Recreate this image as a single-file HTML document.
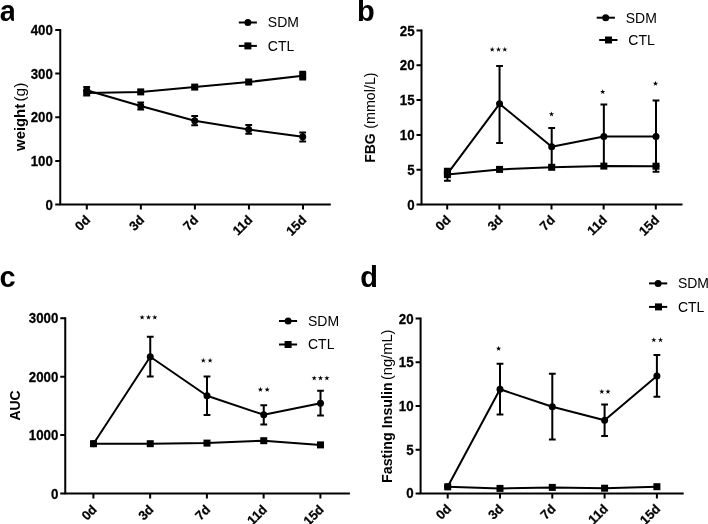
<!DOCTYPE html>
<html><head><meta charset="utf-8"><style>
html,body{margin:0;padding:0;background:#fff;width:708px;height:524px;overflow:hidden}
svg{display:block;will-change:transform}
text{font-family:"Liberation Sans", sans-serif;fill:#000}
.b{font-weight:bold}
.t{font-size:13.3px;stroke:#000;stroke-width:0.25px}
.x{font-size:13px;stroke:#000;stroke-width:0.25px}
.y{font-size:14px}
.p{font-size:29px}
.l{font-size:14px}
</style></head><body>
<svg width="708" height="524" viewBox="0 0 708 524">
<rect width="708" height="524" fill="#fff"/>
<path d="M60.25 30V204.5H329.8" fill="none" stroke="#000" stroke-width="2.0" stroke-linecap="square"/>
<path d="M55.25 204.5H60.25M55.25 160.88H60.25M55.25 117.25H60.25M55.25 73.62H60.25M55.25 30H60.25M86.8 204.5V209.5M140.85 204.5V209.5M194.9 204.5V209.5M248.95 204.5V209.5M303 204.5V209.5" fill="none" stroke="#000" stroke-width="2.0"/>
<text transform="translate(52.9 209.5) scale(1 1.06)" text-anchor="end" class="b t">0</text>
<text transform="translate(52.9 165.88) scale(1 1.06)" text-anchor="end" class="b t">100</text>
<text transform="translate(52.9 122.25) scale(1 1.06)" text-anchor="end" class="b t">200</text>
<text transform="translate(52.9 78.62) scale(1 1.06)" text-anchor="end" class="b t">300</text>
<text transform="translate(52.9 35) scale(1 1.06)" text-anchor="end" class="b t">400</text>
<text transform="translate(91.1 220.7) rotate(-45)" text-anchor="end" class="b x">0d</text>
<text transform="translate(145.15 220.7) rotate(-45)" text-anchor="end" class="b x">3d</text>
<text transform="translate(199.2 220.7) rotate(-45)" text-anchor="end" class="b x">7d</text>
<text transform="translate(253.25 220.7) rotate(-45)" text-anchor="end" class="b x">11d</text>
<text transform="translate(307.3 220.7) rotate(-45)" text-anchor="end" class="b x">15d</text>
<text transform="translate(24.8 150.9) rotate(-90) scale(1.06 1.05)" class="b y">weight</text>
<text transform="translate(24.8 82.7) rotate(-90) scale(1.1 1.05)" text-anchor="end" class="y">(g)</text>
<text x="-0.2" y="21" class="b p">a</text>
<rect x="13.9" y="12" width="4" height="10" fill="#fff"/>
<path d="M302.7 71.7V79.6M299.3 71.7H306.1M299.3 79.6H306.1" fill="none" stroke="#000" stroke-width="2.0"/>
<polyline points="86.7,93 140.7,91.9 194.7,87.1 248.7,82 302.7,75.65" fill="none" stroke="#000" stroke-width="2.0" stroke-linejoin="round"/>
<rect x="83.2" y="89.5" width="7.0" height="7.0"/>
<rect x="137.2" y="88.4" width="7.0" height="7.0"/>
<rect x="191.2" y="83.6" width="7.0" height="7.0"/>
<rect x="245.2" y="78.5" width="7.0" height="7.0"/>
<rect x="299.2" y="72.15" width="7.0" height="7.0"/>
<path d="M86.7 87V90.2M83.3 87H90.1M140.7 102.6V109.5M137.3 102.6H144.1M137.3 109.5H144.1M194.7 115.9V125.3M191.3 115.9H198.1M191.3 125.3H198.1M248.7 125V133.8M245.3 125H252.1M245.3 133.8H252.1M302.7 132.4V141.4M299.3 132.4H306.1M299.3 141.4H306.1" fill="none" stroke="#000" stroke-width="2.0"/>
<polyline points="86.7,90.2 140.7,106 194.7,120.8 248.7,129.5 302.7,136.7" fill="none" stroke="#000" stroke-width="2.0" stroke-linejoin="round"/>
<circle cx="86.7" cy="90.2" r="3.5"/>
<circle cx="140.7" cy="106" r="3.5"/>
<circle cx="194.7" cy="120.8" r="3.5"/>
<circle cx="248.7" cy="129.5" r="3.5"/>
<circle cx="302.7" cy="136.7" r="3.5"/>
<path d="M238.8 22.5H256.9" stroke="#000" stroke-width="2.0"/>
<circle cx="247.9" cy="22.5" r="3.5"/>
<text transform="translate(267.8 27.3) scale(1 1.1)" class="l">SDM</text>
<path d="M238.8 45.9H256.9" stroke="#000" stroke-width="2.0"/>
<rect x="244.4" y="42.4" width="7.0" height="7.0"/>
<text transform="translate(267.8 50.7) scale(1 1.1)" class="l">CTL</text>
<path d="M421.5 30.5V204.5H681.5" fill="none" stroke="#000" stroke-width="2.0" stroke-linecap="square"/>
<path d="M416.5 204.5H421.5M416.5 169.7H421.5M416.5 134.9H421.5M416.5 100.1H421.5M416.5 65.3H421.5M416.5 30.5H421.5M447.2 204.5V209.5M499.35 204.5V209.5M551.5 204.5V209.5M603.65 204.5V209.5M655.8 204.5V209.5" fill="none" stroke="#000" stroke-width="2.0"/>
<text transform="translate(414.6 209.5) scale(1 1.06)" text-anchor="end" class="b t">0</text>
<text transform="translate(414.6 174.7) scale(1 1.06)" text-anchor="end" class="b t">5</text>
<text transform="translate(414.6 139.9) scale(1 1.06)" text-anchor="end" class="b t">10</text>
<text transform="translate(414.6 105.1) scale(1 1.06)" text-anchor="end" class="b t">15</text>
<text transform="translate(414.6 70.3) scale(1 1.06)" text-anchor="end" class="b t">20</text>
<text transform="translate(414.6 35.5) scale(1 1.06)" text-anchor="end" class="b t">25</text>
<text transform="translate(451.5 220.7) rotate(-45)" text-anchor="end" class="b x">0d</text>
<text transform="translate(503.65 220.7) rotate(-45)" text-anchor="end" class="b x">3d</text>
<text transform="translate(555.8 220.7) rotate(-45)" text-anchor="end" class="b x">7d</text>
<text transform="translate(607.95 220.7) rotate(-45)" text-anchor="end" class="b x">11d</text>
<text transform="translate(660.1 220.7) rotate(-45)" text-anchor="end" class="b x">15d</text>
<text transform="translate(375 162.8) rotate(-90) scale(1 1.05)" class="b y">FBG</text>
<text transform="translate(375 72.4) rotate(-90) scale(1.02 1.05)" text-anchor="end" class="y">(mmol/L)</text>
<text x="357" y="21" class="b p">b</text>
<path d="M447.4 168.8V174.6M444 168.8H450.8M656 166.2V171.7M652.6 171.7H659.4" fill="none" stroke="#000" stroke-width="2.0"/>
<polyline points="447.4,174.6 499.55,169.4 551.7,167.3 603.85,166.1 656,166.2" fill="none" stroke="#000" stroke-width="2.0" stroke-linejoin="round"/>
<rect x="443.9" y="171.1" width="7.0" height="7.0"/>
<rect x="496.05" y="165.9" width="7.0" height="7.0"/>
<rect x="548.2" y="163.8" width="7.0" height="7.0"/>
<rect x="600.35" y="162.6" width="7.0" height="7.0"/>
<rect x="652.5" y="162.7" width="7.0" height="7.0"/>
<path d="M447.4 173.8V180.7M444 180.7H450.8M499.55 65.9V142.9M496.15 65.9H502.95M496.15 142.9H502.95M551.7 128V166M548.3 128H555.1M548.3 166H555.1M603.85 104.5V166M600.45 104.5H607.25M600.45 166H607.25M656 100.6V166M652.6 100.6H659.4M652.6 166H659.4" fill="none" stroke="#000" stroke-width="2.0"/>
<polyline points="447.4,173.8 499.55,103.8 551.7,146.85 603.85,136.4 656,136.4" fill="none" stroke="#000" stroke-width="2.0" stroke-linejoin="round"/>
<circle cx="447.4" cy="173.8" r="3.5"/>
<circle cx="499.55" cy="103.8" r="3.5"/>
<circle cx="551.7" cy="146.85" r="3.5"/>
<circle cx="603.85" cy="136.4" r="3.5"/>
<circle cx="656" cy="136.4" r="3.5"/>
<rect x="443.9" y="168" width="7" height="7"/>
<polygon points="492.2,46.75 492.82,48.65 494.82,48.65 493.2,49.82 493.82,51.72 492.2,50.55 490.58,51.72 491.2,49.82 489.58,48.65 491.58,48.65"/>
<polygon points="498.5,46.75 499.12,48.65 501.12,48.65 499.5,49.82 500.12,51.72 498.5,50.55 496.88,51.72 497.5,49.82 495.88,48.65 497.88,48.65"/>
<polygon points="504.8,46.75 505.42,48.65 507.42,48.65 505.8,49.82 506.42,51.72 504.8,50.55 503.18,51.72 503.8,49.82 502.18,48.65 504.18,48.65"/>
<polygon points="551.5,111.45 552.12,113.35 554.12,113.35 552.5,114.52 553.12,116.42 551.5,115.25 549.88,116.42 550.5,114.52 548.88,113.35 550.88,113.35"/>
<polygon points="602.7,89.15 603.32,91.05 605.32,91.05 603.7,92.22 604.32,94.12 602.7,92.95 601.08,94.12 601.7,92.22 600.08,91.05 602.08,91.05"/>
<polygon points="655.5,80.85 656.12,82.75 658.12,82.75 656.5,83.92 657.12,85.82 655.5,84.65 653.88,85.82 654.5,83.92 652.88,82.75 654.88,82.75"/>
<path d="M596.7 17.7H614.9" stroke="#000" stroke-width="2.0"/>
<circle cx="605.7" cy="17.7" r="3.5"/>
<text transform="translate(625.7 22.5) scale(1 1.1)" class="l">SDM</text>
<path d="M599.2 40H617.5" stroke="#000" stroke-width="2.0"/>
<rect x="605" y="36.5" width="7.0" height="7.0"/>
<text transform="translate(628.3 44.8) scale(1 1.1)" class="l">CTL</text>
<path d="M65.25 318.3V493.5H348.9" fill="none" stroke="#000" stroke-width="2.0" stroke-linecap="square"/>
<path d="M60.25 493.5H65.25M60.25 435.1H65.25M60.25 376.7H65.25M60.25 318.3H65.25M93.4 493.5V498.5M150.15 493.5V498.5M206.9 493.5V498.5M263.65 493.5V498.5M320.4 493.5V498.5" fill="none" stroke="#000" stroke-width="2.0"/>
<text transform="translate(58.3 498.5) scale(1 1.06)" text-anchor="end" class="b t">0</text>
<text transform="translate(58.3 440.1) scale(1 1.06)" text-anchor="end" class="b t">1000</text>
<text transform="translate(58.3 381.7) scale(1 1.06)" text-anchor="end" class="b t">2000</text>
<text transform="translate(58.3 323.3) scale(1 1.06)" text-anchor="end" class="b t">3000</text>
<text transform="translate(97.7 510.3) rotate(-45)" text-anchor="end" class="b x">0d</text>
<text transform="translate(154.45 510.3) rotate(-45)" text-anchor="end" class="b x">3d</text>
<text transform="translate(211.2 510.3) rotate(-45)" text-anchor="end" class="b x">7d</text>
<text transform="translate(267.95 510.3) rotate(-45)" text-anchor="end" class="b x">11d</text>
<text transform="translate(324.7 510.3) rotate(-45)" text-anchor="end" class="b x">15d</text>
<text transform="translate(19.7 420.6) rotate(-90) scale(1 1.05)" class="b y">AUC</text>
<text x="-0.6" y="287.4" class="b p">c</text>
<polyline points="93.5,443.7 150.25,443.7 207,443.1 263.75,440.7 320.5,444.9" fill="none" stroke="#000" stroke-width="2.0" stroke-linejoin="round"/>
<rect x="90" y="440.2" width="7.0" height="7.0"/>
<rect x="146.75" y="440.2" width="7.0" height="7.0"/>
<rect x="203.5" y="439.6" width="7.0" height="7.0"/>
<rect x="260.25" y="437.2" width="7.0" height="7.0"/>
<rect x="317" y="441.4" width="7.0" height="7.0"/>
<path d="M150.25 336.7V376.4M146.85 336.7H153.65M146.85 376.4H153.65M207 376.4V415M203.6 376.4H210.4M203.6 415H210.4M263.75 405.2V424.5M260.35 405.2H267.15M260.35 424.5H267.15M320.5 390.7V415.6M317.1 390.7H323.9M317.1 415.6H323.9" fill="none" stroke="#000" stroke-width="2.0"/>
<polyline points="93.5,443.7 150.25,356.7 207,395.7 263.75,414.8 320.5,403.3" fill="none" stroke="#000" stroke-width="2.0" stroke-linejoin="round"/>
<circle cx="93.5" cy="443.7" r="3.5"/>
<circle cx="150.25" cy="356.7" r="3.5"/>
<circle cx="207" cy="395.7" r="3.5"/>
<circle cx="263.75" cy="414.8" r="3.5"/>
<circle cx="320.5" cy="403.3" r="3.5"/>
<polygon points="142.1,314.65 142.72,316.55 144.72,316.55 143.1,317.72 143.72,319.62 142.1,318.45 140.48,319.62 141.1,317.72 139.48,316.55 141.48,316.55"/>
<polygon points="148.5,314.65 149.12,316.55 151.12,316.55 149.5,317.72 150.12,319.62 148.5,318.45 146.88,319.62 147.5,317.72 145.88,316.55 147.88,316.55"/>
<polygon points="154.8,314.65 155.42,316.55 157.42,316.55 155.8,317.72 156.42,319.62 154.8,318.45 153.18,319.62 153.8,317.72 152.18,316.55 154.18,316.55"/>
<polygon points="203.3,357.75 203.92,359.65 205.92,359.65 204.3,360.82 204.92,362.72 203.3,361.55 201.68,362.72 202.3,360.82 200.68,359.65 202.68,359.65"/>
<polygon points="210.1,357.75 210.72,359.65 212.72,359.65 211.1,360.82 211.72,362.72 210.1,361.55 208.48,362.72 209.1,360.82 207.48,359.65 209.48,359.65"/>
<polygon points="260.4,386.85 261.02,388.75 263.02,388.75 261.4,389.92 262.02,391.82 260.4,390.65 258.78,391.82 259.4,389.92 257.78,388.75 259.78,388.75"/>
<polygon points="267.2,386.85 267.82,388.75 269.82,388.75 268.2,389.92 268.82,391.82 267.2,390.65 265.58,391.82 266.2,389.92 264.58,388.75 266.58,388.75"/>
<polygon points="314.2,375.45 314.82,377.35 316.82,377.35 315.2,378.52 315.82,380.42 314.2,379.25 312.58,380.42 313.2,378.52 311.58,377.35 313.58,377.35"/>
<polygon points="320.5,375.45 321.12,377.35 323.12,377.35 321.5,378.52 322.12,380.42 320.5,379.25 318.88,380.42 319.5,378.52 317.88,377.35 319.88,377.35"/>
<polygon points="326.9,375.45 327.52,377.35 329.52,377.35 327.9,378.52 328.52,380.42 326.9,379.25 325.28,380.42 325.9,378.52 324.28,377.35 326.28,377.35"/>
<path d="M279 321H297.1" stroke="#000" stroke-width="2.0"/>
<circle cx="288.1" cy="321" r="3.5"/>
<text transform="translate(308 325.8) scale(1 1.1)" class="l">SDM</text>
<path d="M279 344.5H297.1" stroke="#000" stroke-width="2.0"/>
<rect x="284.6" y="341" width="7.0" height="7.0"/>
<text transform="translate(308 349.3) scale(1 1.1)" class="l">CTL</text>
<path d="M420.6 318.6V493.4H682.7" fill="none" stroke="#000" stroke-width="2.0" stroke-linecap="square"/>
<path d="M415.6 493.4H420.6M415.6 449.7H420.6M415.6 406H420.6M415.6 362.3H420.6M415.6 318.6H420.6M447.7 493.4V498.4M500 493.4V498.4M552.3 493.4V498.4M604.6 493.4V498.4M656.9 493.4V498.4" fill="none" stroke="#000" stroke-width="2.0"/>
<text transform="translate(413.6 498.4) scale(1 1.06)" text-anchor="end" class="b t">0</text>
<text transform="translate(413.6 454.7) scale(1 1.06)" text-anchor="end" class="b t">5</text>
<text transform="translate(413.6 411) scale(1 1.06)" text-anchor="end" class="b t">10</text>
<text transform="translate(413.6 367.3) scale(1 1.06)" text-anchor="end" class="b t">15</text>
<text transform="translate(413.6 323.6) scale(1 1.06)" text-anchor="end" class="b t">20</text>
<text transform="translate(452 509.6) rotate(-45)" text-anchor="end" class="b x">0d</text>
<text transform="translate(504.3 509.6) rotate(-45)" text-anchor="end" class="b x">3d</text>
<text transform="translate(556.6 509.6) rotate(-45)" text-anchor="end" class="b x">7d</text>
<text transform="translate(608.9 509.6) rotate(-45)" text-anchor="end" class="b x">11d</text>
<text transform="translate(661.2 509.6) rotate(-45)" text-anchor="end" class="b x">15d</text>
<text transform="translate(392.1 483) rotate(-90) scale(1.02 1.05)" class="b y">Fasting Insulin</text>
<text transform="translate(392.1 329.5) rotate(-90) scale(1.05 1.05)" text-anchor="end" class="y">(ng/mL)</text>
<text x="360.3" y="287.4" class="b p">d</text>
<polyline points="447.7,486.8 500,488.4 552.3,487.4 604.6,488.2 656.9,486.7" fill="none" stroke="#000" stroke-width="2.0" stroke-linejoin="round"/>
<rect x="444.2" y="483.3" width="7.0" height="7.0"/>
<rect x="496.5" y="484.9" width="7.0" height="7.0"/>
<rect x="548.8" y="483.9" width="7.0" height="7.0"/>
<rect x="601.1" y="484.7" width="7.0" height="7.0"/>
<rect x="653.4" y="483.2" width="7.0" height="7.0"/>
<path d="M500 363.8V414.5M496.6 363.8H503.4M496.6 414.5H503.4M552.3 373.8V439.6M548.9 373.8H555.7M548.9 439.6H555.7M604.6 404.5V436M601.2 404.5H608M601.2 436H608M656.9 355V396.8M653.5 355H660.3M653.5 396.8H660.3" fill="none" stroke="#000" stroke-width="2.0"/>
<polyline points="447.7,486.8 500,389.3 552.3,406.7 604.6,420.3 656.9,376" fill="none" stroke="#000" stroke-width="2.0" stroke-linejoin="round"/>
<circle cx="447.7" cy="486.8" r="3.5"/>
<circle cx="500" cy="389.3" r="3.5"/>
<circle cx="552.3" cy="406.7" r="3.5"/>
<circle cx="604.6" cy="420.3" r="3.5"/>
<circle cx="656.9" cy="376" r="3.5"/>
<polygon points="498.6,345.85 499.22,347.75 501.22,347.75 499.6,348.92 500.22,350.82 498.6,349.65 496.98,350.82 497.6,348.92 495.98,347.75 497.98,347.75"/>
<polygon points="601.8,388.95 602.42,390.85 604.42,390.85 602.8,392.02 603.42,393.92 601.8,392.75 600.18,393.92 600.8,392.02 599.18,390.85 601.18,390.85"/>
<polygon points="608,388.95 608.62,390.85 610.62,390.85 609,392.02 609.62,393.92 608,392.75 606.38,393.92 607,392.02 605.38,390.85 607.38,390.85"/>
<polygon points="653.8,337.25 654.42,339.15 656.42,339.15 654.8,340.32 655.42,342.22 653.8,341.05 652.18,342.22 652.8,340.32 651.18,339.15 653.18,339.15"/>
<polygon points="660.5,337.25 661.12,339.15 663.12,339.15 661.5,340.32 662.12,342.22 660.5,341.05 658.88,342.22 659.5,340.32 657.88,339.15 659.88,339.15"/>
<path d="M649 283.4H667.2" stroke="#000" stroke-width="2.0"/>
<circle cx="658.1" cy="283.4" r="3.5"/>
<text transform="translate(677.9 288.2) scale(1 1.1)" class="l">SDM</text>
<path d="M649 306.9H667.2" stroke="#000" stroke-width="2.0"/>
<rect x="655" y="303.4" width="7.0" height="7.0"/>
<text transform="translate(677.9 311.7) scale(1 1.1)" class="l">CTL</text>
</svg>
</body></html>
